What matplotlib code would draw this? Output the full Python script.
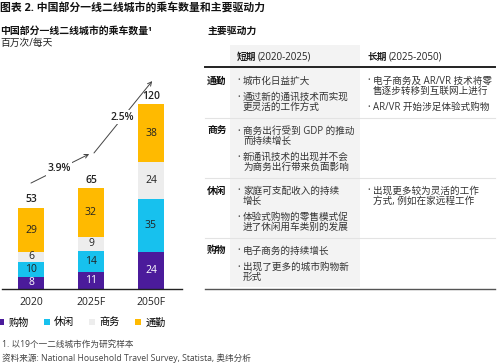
import matplotlib
matplotlib.use("Agg")
import matplotlib.pyplot as plt
from matplotlib.patches import Rectangle
from matplotlib.lines import Line2D
import numpy as np

plt.rcParams['font.family'] = ['Open Sans', 'Noto Sans CJK SC', 'DejaVu Sans']

# ---------------- data ----------------
years = ["2020", "2025F", "2050F"]
series_names = ["购物", "休闲", "商务", "通勤"]
shopping = [8, 11, 24]
leisure = [10, 14, 35]
business = [6, 9, 24]
commute = [29, 32, 38]
totals = [53, 65, 120]
growth_labels = ["3.9%", "2.5%"]
colors = ["#4B1B9B", "#17C1EE", "#EDEDED", "#FFBA00"]
label_colors = ["white", "#222222", "#222222", "#222222"]

title = "图表 2. 中国部分一线二线城市的乘车数量和主要驱动力"
left_title = "中国部分一线二线城市的乘车数量¹"
unit = "百万次/每天"
right_title = "主要驱动力"
footnote = "1. 以19个一二线城市作为研究样本"
source = "资料来源: National Household Travel Survey, Statista, 奥纬分析"

col_heads = [("短期", "(2020-2025)"), ("长期", "(2025-2050)")]
row_labels = ["通勤", "商务", "休闲", "购物"]
short_term = [
    [["城市化日益扩大"], ["通过新的通讯技术而实现", "更灵活的工作方式"]],
    [["商务出行受到 GDP 的推动", "而持续增长"], ["新通讯技术的出现并不会", "为商务出行带来负面影响"]],
    [["家庭可支配收入的持续", "增长"], ["体验式购物的零售模式促", "进了休闲用车类别的发展"]],
    [["电子商务的持续增长"], ["出现了更多的城市购物新", "形式"]],
]
long_term = [
    [["电子商务及 AR/VR 技术将零", "售逐步转移到互联网上进行"], ["AR/VR 开始涉足体验式购物"]],
    [],
    [["出现更多较为灵活的工作", "方式, 例如在家远程工作"]],
    [],
]

# ---------------- figure ----------------
W, H = 499, 364
fig = plt.figure(figsize=(W / 100, H / 100), dpi=100)

def fx(x):
    return x / W

def fy(y):
    return 1 - y / H

fig.text(fx(0), fy(8), title, fontsize=7.8, fontweight='bold', color='#111111', va='center', ha='left')
fig.text(fx(0), fy(31), left_title, fontsize=7.1, fontweight='bold', color='#111111', va='center', ha='left')
fig.text(fx(0), fy(43), unit, fontsize=7, color='#222222', va='center', ha='left')
fig.text(fx(207), fy(31), right_title, fontsize=7.1, fontweight='bold', color='#111111', va='center', ha='left')

# ---------------- bar chart ----------------
ax_left, ax_right, ax_base, ax_top = 2, 182, 289, 60
ax = fig.add_axes([fx(ax_left), fy(ax_base), (ax_right - ax_left) / W, (ax_base - ax_top) / H])
ax.set_xlim(-0.483, 2.517)
ax.set_ylim(0, 150)
x = np.arange(len(years))
bw = 0.42
stack = [shopping, leisure, business, commute]
bottom = np.zeros(len(years))
handles = []
for vals, c, lc, name in zip(stack, colors, label_colors, series_names):
    vals = np.array(vals, dtype=float)
    b = ax.bar(x, vals, bw, bottom=bottom, color=c, edgecolor='none', label=name, zorder=2)
    handles.append(b)
    for xi, v, b0 in zip(x, vals, bottom):
        ax.text(xi, b0 + v / 2, f"{int(v)}", ha='center', va='center', fontsize=7.5, color=lc, zorder=3)
    bottom += vals
for xi, t in zip(x, totals):
    ax.text(xi, t + 2.2, f"{t}", ha='center', va='bottom', fontsize=7.5, color='#222222', fontweight='semibold')

# growth arrows
arrow_specs = [
    ((x[0], totals[0] + 16.4), (x[1] - 0.03, totals[1] + 23.4)),
    ((x[1] + 0.05, totals[1] + 24.1), (x[2] + 0.02, totals[2] + 16.2)),
]
for (p0, p1), lab in zip(arrow_specs, growth_labels):
    ax.annotate("", xy=p1, xytext=p0,
                arrowprops=dict(arrowstyle='->', color='#444444', lw=0.7, shrinkA=0, shrinkB=0,
                                mutation_scale=7))
    mx, my = (p0[0] + p1[0]) / 2, (p0[1] + p1[1]) / 2
    ax.text(mx - 0.02, my, lab, ha='center', va='center', fontsize=7.5, color='#222222',
            fontweight='semibold',
            bbox=dict(boxstyle='square,pad=0.15', fc='white', ec='none'))

for s in ['top', 'right', 'left']:
    ax.spines[s].set_visible(False)
ax.spines['bottom'].set_color('#222222')
ax.spines['bottom'].set_linewidth(1.0)
ax.set_yticks([])
ax.set_xticks(x)
ax.set_xticklabels(years, fontsize=7.5, color='#222222')
ax.tick_params(axis='x', length=0, pad=6)
ax.set_facecolor('none')

fig.legend(handles=handles, labels=series_names, loc='center left',
           bbox_to_anchor=(fx(-2), fy(323)), ncol=4, frameon=False, fontsize=7.3,
           handlelength=0.6, handleheight=0.6, handletextpad=0.45, columnspacing=1.45,
           borderpad=0, borderaxespad=0)

fig.text(fx(2), fy(344), footnote, fontsize=6.2, color='#444444', va='center', ha='left')
fig.text(fx(2), fy(358), source, fontsize=6.2, color='#444444', va='center', ha='left')

# ---------------- table ----------------
tab_left, tab_right = 205, 495
short_x, long_x = 230, 362
short_right = 360
header_y = 57
# grey background of short term column
fig.patches.append(Rectangle((fx(short_x), fy(287)), (short_right - short_x) / W, (287 - 45) / H,
                             transform=fig.transFigure, facecolor='#F3F3F3', edgecolor='none', zorder=0))

for (bold, rest), x0 in zip(col_heads, [237, 368]):
    fig.text(fx(x0), fy(header_y), bold, fontsize=7, fontweight='bold', color='#222222', va='center', ha='left')
    fig.text(fx(x0 + 21), fy(header_y), rest, fontsize=7, color='#222222', va='center', ha='left')

fig.add_artist(Line2D([fx(tab_left), fx(tab_right)], [fy(67), fy(67)], color='#222222', lw=1.4))

line_pitch = 10
bullet_gap = 16.5

def draw_bullets(bullets, x0, y0):
    y = y0
    last = y0
    for i, lines in enumerate(bullets):
        if i > 0:
            y = last + bullet_gap
        fig.text(fx(x0), fy(y), "•", fontsize=5, color='#555555', va='center', ha='left')
        for j, ln in enumerate(lines):
            fig.text(fx(x0 + 6), fy(y + j * line_pitch), ln, fontsize=6.9, color='#333333',
                     va='center', ha='left')
        last = y + (len(lines) - 1) * line_pitch
    return last

y_row = 81
for r, lab in enumerate(row_labels):
    fig.text(fx(207), fy(y_row), lab, fontsize=7, fontweight='bold', color='#111111', va='center', ha='left')
    e1 = draw_bullets(short_term[r], 237, y_row)
    e2 = draw_bullets(long_term[r], 367, y_row) if long_term[r] else y_row
    end = max(e1, e2)
    sep = end + 10.5
    if r < len(row_labels) - 1:
        fig.add_artist(Line2D([fx(tab_left), fx(tab_right)], [fy(sep), fy(sep)], color='#E3E3E3', lw=0.8))
        y_row = sep + 13
    else:
        fig.add_artist(Line2D([fx(tab_left), fx(tab_right)], [fy(289), fy(289)], color='#555555', lw=1.0))

fig.savefig("out.png", dpi=100)
